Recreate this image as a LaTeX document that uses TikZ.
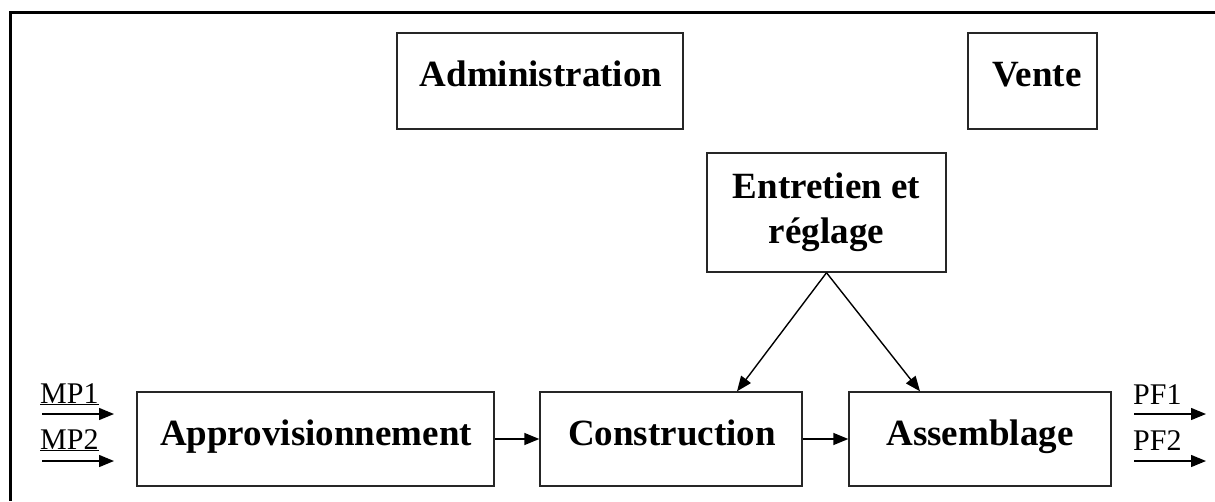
\documentclass[tikz,border=0pt]{standalone}
\usepackage{fontspec}
\setmainfont{Liberation Serif}
\usetikzlibrary{arrows.meta}
\begin{document}
\begin{tikzpicture}[x=1pt,y=-1pt,
  box/.style={draw=black!85, line width=1.4pt, rectangle, inner sep=0pt},
  big/.style={font=\bfseries\fontsize{37}{45}\selectfont, inner sep=0pt, align=center, anchor=base},
  small/.style={font=\fontsize{30}{32}\selectfont, inner sep=0pt, anchor=base west},
  arr/.style={line width=1.4pt, -{Triangle[length=15pt,width=12pt]}},
  frame/.style={line width=3pt}]
\useasboundingbox (0,0) rectangle (1215,501);
% frame
\coordinate (fa) at (10,12);
\coordinate (fb) at (1215,12);
\coordinate (fc) at (10,501);
\draw[frame] (fb) -- (fa) -- (fc);
% boxes
\node[box, minimum width=286pt, minimum height=96pt] (adm) at (540,81) {};
\node[big] (admt) at (541,86) {Administration};
\node[box, minimum width=129pt, minimum height=96pt] (vente) at (1032.5,81) {};
\node[big] (ventet) at (1037,86) {Vente};
\node[box, minimum width=239pt, minimum height=119pt] (ent) at (826.5,212.5) {};
\node[big] (entt) at (826.5,198) {Entretien et};
\node[big] (entt2) at (826.5,243) {réglage};
\node[box, minimum width=357pt, minimum height=94pt] (appro) at (315.5,439) {};
\node[big] (approt) at (316,445) {Approvisionnement};
\node[box, minimum width=262pt, minimum height=94pt] (constr) at (671,439) {};
\node[big] (constrt) at (672,445) {Construction};
\node[box, minimum width=262pt, minimum height=94pt] (assem) at (980,439) {};
\node[big] (assemt) at (980,445) {Assemblage};
% connectors
\draw[arr] (appro.east) -- (constr.west);
\draw[arr] (constr.east) -- (assem.west);
\draw[arr] (ent.south) -- ([xshift=66pt]constr.north);
\draw[arr] (ent.south) -- ([xshift=-60pt]assem.north);
% inputs
\coordinate (mp1a) at (42,414); \coordinate (mp1b) at (114,414);
\coordinate (mp2a) at (42,461); \coordinate (mp2b) at (114,461);
\draw[arr] (mp1a) -- (mp1b);
\draw[arr] (mp2a) -- (mp2b);
\node[small] (mp1) at (40,403) {\underline{MP1}};
\node[small] (mp2) at (40,449) {\underline{MP2}};
% outputs
\coordinate (pf1a) at (1134,414); \coordinate (pf1b) at (1206,414);
\coordinate (pf2a) at (1134,461); \coordinate (pf2b) at (1206,461);
\draw[arr] (pf1a) -- (pf1b);
\draw[arr] (pf2a) -- (pf2b);
\node[small] (pf1) at (1133,404) {PF1};
\node[small] (pf2) at (1133,450) {PF2};
\end{tikzpicture}
\end{document}
